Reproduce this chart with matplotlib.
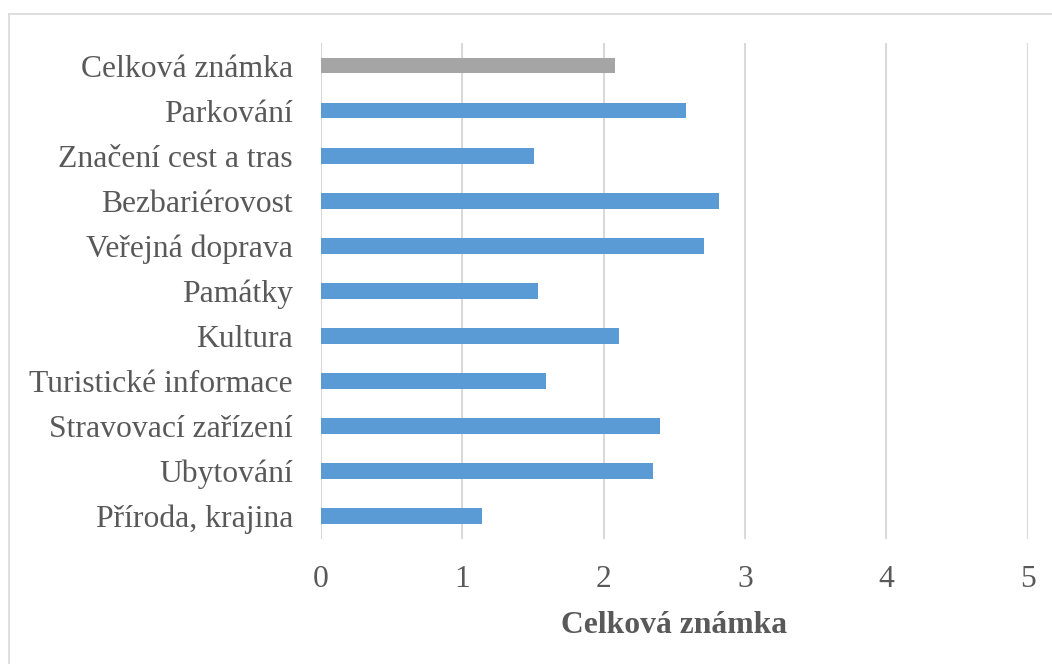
import matplotlib.pyplot as plt
from matplotlib.lines import Line2D

# ——— Data (top to bottom as shown) ———
categories = [
    "Celková známka",
    "Parkování",
    "Značení cest a tras",
    "Bezbariérovost",
    "Veřejná doprava",
    "Památky",
    "Kultura",
    "Turistické informace",
    "Stravovací zařízení",
    "Ubytování",
    "Příroda, krajina",
]
scores = [2.08, 2.58, 1.51, 2.82, 2.71, 1.54, 2.11, 1.59, 2.40, 2.35, 1.14]
x_ticks = [0, 1, 2, 3, 4, 5]
x_title = "Celková známka"

BLUE = "#5B9BD5"
GREY = "#A5A5A5"
TEXT = "#595959"
GRID = "#D9D9D9"

plt.rcParams['font.family'] = ['Liberation Serif', 'DejaVu Serif']

fig = plt.figure(figsize=(10.52, 6.64), dpi=100)
ax = fig.add_axes([0.3049, 0.189, 0.6720, 0.7462])

colors = [GREY] + [BLUE] * (len(categories) - 1)
ypos = list(range(len(categories)))
ax.barh(ypos, scores, height=0.35, color=colors, zorder=3)

ax.set_xlim(0, 5)
ax.set_ylim(len(categories) - 0.5, -0.5)
ax.set_xticks(x_ticks)
ax.set_xticklabels([str(t) for t in x_ticks])
ax.set_yticks(ypos)
ax.set_yticklabels(categories)

ax.tick_params(axis='y', length=0, pad=20, labelsize=22.8, labelcolor=TEXT)
ax.tick_params(axis='x', length=0, pad=19, labelsize=22.8, labelcolor=TEXT)

ax.grid(axis='x', color=GRID, linewidth=1.5, zorder=0)
for s in ax.spines.values():
    s.set_visible(False)

ax.set_xlabel(x_title, fontsize=22.8, fontweight='bold', color=TEXT, labelpad=12)

# light outer frame (left and top edges only visible)
fw, fh = 1052, 664
fig.add_artist(Line2D([8.5 / fw, 8.5 / fw], [0, 1 - 14 / fh],
                      transform=fig.transFigure, color=GRID, linewidth=1.2))
fig.add_artist(Line2D([8.5 / fw, 1], [1 - 14 / fh, 1 - 14 / fh],
                      transform=fig.transFigure, color=GRID, linewidth=1.2))

fig.savefig("out.png", dpi=100, facecolor="white")
